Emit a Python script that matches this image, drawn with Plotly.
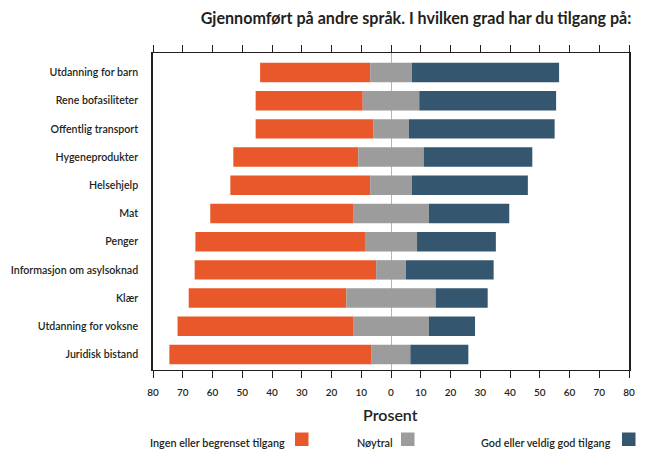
import numpy as np
import plotly.graph_objects as go

categories = [
    "Utdanning for barn",
    "Rene bofasiliteter",
    "Offentlig transport",
    "Hygeneprodukter",
    "Helsehjelp",
    "Mat",
    "Penger",
    "Informasjon om asylsoknad",
    "Klær",
    "Utdanning for voksne",
    "Juridisk bistand",
]
ingen = [37, 36, 39.5, 42, 47, 48, 57, 61, 53, 59, 68]
noytral = [14, 19, 12, 22, 14, 25.5, 17.5, 10, 30, 25.5, 13]
god = [49.5, 46, 49, 36.5, 39, 27, 26.5, 29.5, 17.5, 15.5, 19.5]

tick_values = list(range(-80, 81, 10))
tick_labels = [str(abs(v)) for v in tick_values]

series_names = ["Ingen eller begrenset tilgang", "Nøytral", "God eller veldig god tilgang"]
colors = ["#E9582A", "#9C9C9C", "#34566F"]
txt = "#231F20"
FONT = "Lato"

n = np.array(noytral, dtype=float)
o = np.array(ingen, dtype=float)
b = np.array(god, dtype=float)

fig = go.Figure()
fig.add_trace(go.Bar(y=categories, x=o, base=-n / 2 - o, orientation="h",
                     marker=dict(color=colors[0], line=dict(width=0)), name=series_names[0]))
fig.add_trace(go.Bar(y=categories, x=n, base=-n / 2, orientation="h",
                     marker=dict(color=colors[1], line=dict(width=0)), name=series_names[1]))
fig.add_trace(go.Bar(y=categories, x=b, base=n / 2, orientation="h",
                     marker=dict(color=colors[2], line=dict(width=0)), name=series_names[2]))

W, H = 646, 450
L, R, T, B = 153, 17, 53, 80
pw, ph = W - L - R, H - T - B


def px_x(p):
    return (p - L) / pw


def px_y(p):
    return (H - B - p) / ph


annotations = [
    dict(text="Prosent", x=px_x(390), y=px_y(414), xref="paper", yref="paper",
         showarrow=False, xanchor="center", yanchor="middle",
         font=dict(family=FONT, size=16, color=txt, weight=600)),
]
shapes = []
legend_items = [
    (series_names[0], 287, 295),
    (series_names[1], 395, 401),
    (series_names[2], 613, 622),
]
for (name, text_right, sq_left), col in zip(legend_items, colors):
    annotations.append(dict(text=name, x=px_x(text_right), y=px_y(442), xref="paper", yref="paper",
                            showarrow=False, xanchor="right", yanchor="middle",
                            font=dict(family=FONT, size=10.8, color=txt, weight=600)))
    shapes.append(dict(type="rect", xref="paper", yref="paper",
                       x0=px_x(sq_left), x1=px_x(sq_left + 13.5),
                       y0=px_y(446), y1=px_y(432.5),
                       fillcolor=col, line=dict(width=0)))

fig.update_layout(
    template="none",
    width=W, height=H,
    margin=dict(l=L, r=R, t=T, b=B, pad=0, autoexpand=False),
    barmode="overlay",
    bargap=0.31,
    showlegend=False,
    plot_bgcolor="white",
    paper_bgcolor="white",
    title=dict(text="Gjennomført på andre språk. I hvilken grad har du tilgang på:",
               x=416 / W, xanchor="center", xref="container",
               y=1 - 18.5 / H, yanchor="middle",
               font=dict(family=FONT, size=16.1, color=txt, weight=700)),
    annotations=annotations,
    shapes=shapes,
    xaxis=dict(
        range=[-80, 80], automargin=False,
        tickvals=tick_values, ticktext=tick_labels,
        ticks="outside", ticklen=7, tickwidth=1.2, tickcolor=txt,
        showline=True, linecolor=txt, linewidth=1.2, mirror="ticks",
        showgrid=False,
        zeroline=True, zerolinecolor="#B5B5B5", zerolinewidth=1.2,
        layer="above traces",
        tickfont=dict(family=FONT, size=10, color=txt, weight=600),
        ticklabelstandoff=6,
    ),
    yaxis=dict(
        categoryorder="array", categoryarray=categories,
        range=[10.55, -0.69], automargin=False,
        showline=True, linecolor=txt, linewidth=1.5, mirror=True,
        ticks="", showgrid=False, zeroline=False,
        tickfont=dict(family=FONT, size=10.6, color=txt, weight=600),
        ticklabelstandoff=11,
    ),
)

fig.write_html("out.html",
               config={"displayModeBar": False},
               post_script="document.body.style.margin='0';document.body.style.padding='0';")
